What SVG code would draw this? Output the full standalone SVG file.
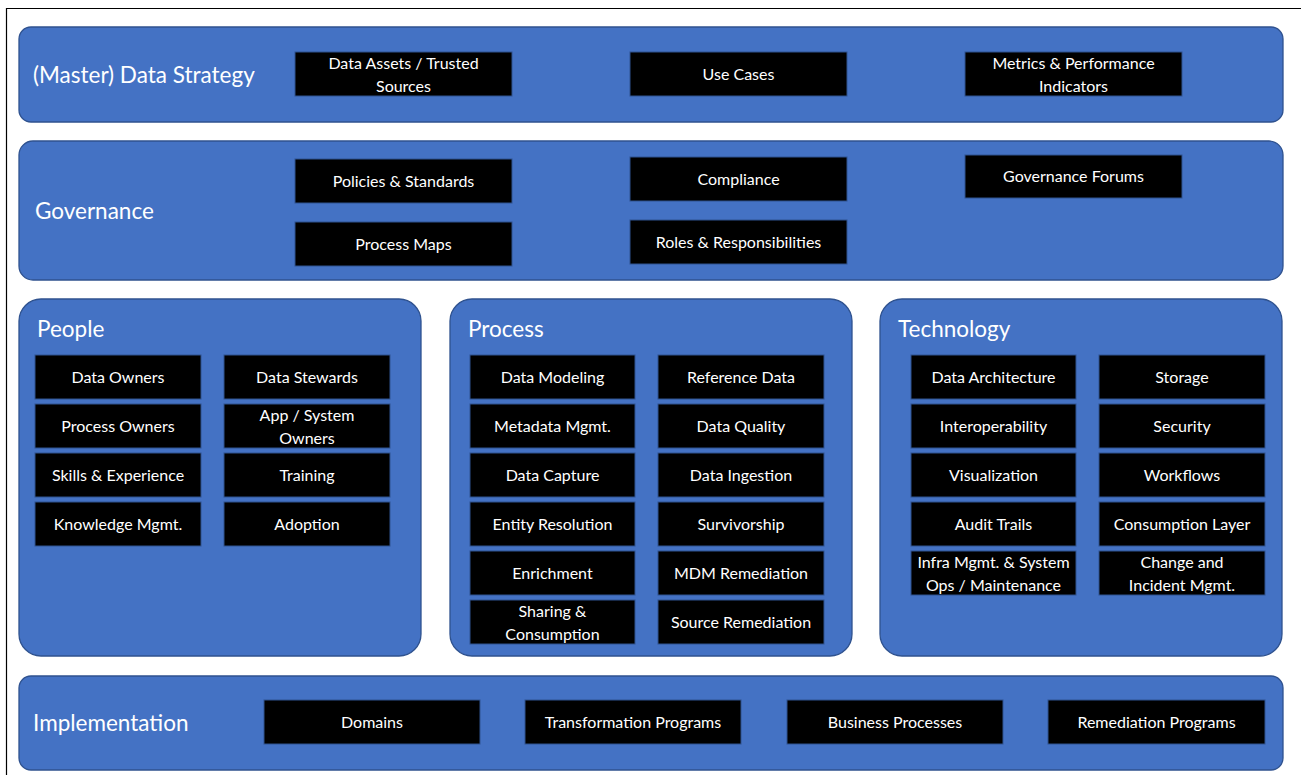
<svg xmlns="http://www.w3.org/2000/svg" width="1301" height="775" viewBox="0 0 1301 775">
<style>
.panel{fill:#4472C4;stroke:#2F528F;stroke-width:1.3}
.box{fill:#000;stroke:#2F528F;stroke-width:1}
.t{font-family:Lato,"Open Sans","Liberation Sans",sans-serif;font-size:16px;fill:#fff;text-anchor:middle}
.h{font-family:Lato,"Open Sans","Liberation Sans",sans-serif;font-size:22.5px;fill:#fff}
</style>
<rect width="1301" height="775" fill="#fff"/>
<path d="M6.5 775 V8.5 H1301" fill="none" stroke="#000" stroke-width="1.2"/>

<g id="strategy">
<rect class="panel" x="19" y="27" width="1264" height="95" rx="12"/>
<text class="h" x="33" y="83">(Master) Data Strategy</text>
</g>
<g id="n-data-assets"><rect class="box" x="295" y="52" width="217" height="44"/><text class="t" x="403.5" y="69">Data Assets / Trusted</text><text class="t" x="403.5" y="92">Sources</text></g>
<g id="n-use-cases"><rect class="box" x="630" y="52" width="217" height="44"/><text class="t" x="738.5" y="80">Use Cases</text></g>
<g id="n-metrics"><rect class="box" x="965" y="52" width="217" height="44"/><text class="t" x="1073.5" y="69">Metrics &amp; Performance</text><text class="t" x="1073.5" y="92">Indicators</text></g>

<g id="governance">
<rect class="panel" x="19" y="141" width="1264" height="139" rx="14"/>
<text class="h" x="35" y="219">Governance</text>
</g>
<g id="n-policies"><rect class="box" x="295" y="159" width="217" height="44"/><text class="t" x="403.5" y="187">Policies &amp; Standards</text></g>
<g id="n-process-maps"><rect class="box" x="295" y="222" width="217" height="44"/><text class="t" x="403.5" y="250">Process Maps</text></g>
<g id="n-compliance"><rect class="box" x="630" y="157" width="217" height="44"/><text class="t" x="738.5" y="185">Compliance</text></g>
<g id="n-roles"><rect class="box" x="630" y="220" width="217" height="44"/><text class="t" x="738.5" y="248">Roles &amp; Responsibilities</text></g>
<g id="n-forums"><rect class="box" x="965" y="155" width="217" height="43" /><text class="t" x="1073.5" y="182">Governance Forums</text></g>

<g id="people">
<rect class="panel" x="19" y="299" width="402" height="357" rx="22"/>
<text class="h" x="37" y="337">People</text>
</g>
<g id="n-data-owners"><rect class="box" x="35" y="355" width="166" height="44"/><text class="t" x="118" y="383">Data Owners</text></g>
<g id="n-data-stewards"><rect class="box" x="224" y="355" width="166" height="44"/><text class="t" x="307" y="383">Data Stewards</text></g>
<g id="n-process-owners"><rect class="box" x="35" y="404" width="166" height="44"/><text class="t" x="118" y="432">Process Owners</text></g>
<g id="n-app-owners"><rect class="box" x="224" y="404" width="166" height="44"/><text class="t" x="307" y="421">App / System</text><text class="t" x="307" y="444">Owners</text></g>
<g id="n-skills"><rect class="box" x="35" y="453" width="166" height="44"/><text class="t" x="118" y="481">Skills &amp; Experience</text></g>
<g id="n-training"><rect class="box" x="224" y="453" width="166" height="44"/><text class="t" x="307" y="481">Training</text></g>
<g id="n-knowledge"><rect class="box" x="35" y="502" width="166" height="44"/><text class="t" x="118" y="530">Knowledge Mgmt.</text></g>
<g id="n-adoption"><rect class="box" x="224" y="502" width="166" height="44"/><text class="t" x="307" y="530">Adoption</text></g>

<g id="process">
<rect class="panel" x="450" y="299" width="402" height="357" rx="22"/>
<text class="h" x="468" y="337">Process</text>
</g>
<g id="n-data-modeling"><rect class="box" x="470" y="355" width="165" height="44"/><text class="t" x="552.5" y="383">Data Modeling</text></g>
<g id="n-reference-data"><rect class="box" x="658" y="355" width="166" height="44"/><text class="t" x="741" y="383">Reference Data</text></g>
<g id="n-metadata"><rect class="box" x="470" y="404" width="165" height="44"/><text class="t" x="552.5" y="432">Metadata Mgmt.</text></g>
<g id="n-data-quality"><rect class="box" x="658" y="404" width="166" height="44"/><text class="t" x="741" y="432">Data Quality</text></g>
<g id="n-data-capture"><rect class="box" x="470" y="453" width="165" height="44"/><text class="t" x="552.5" y="481">Data Capture</text></g>
<g id="n-data-ingestion"><rect class="box" x="658" y="453" width="166" height="44"/><text class="t" x="741" y="481">Data Ingestion</text></g>
<g id="n-entity-resolution"><rect class="box" x="470" y="502" width="165" height="44"/><text class="t" x="552.5" y="530">Entity Resolution</text></g>
<g id="n-survivorship"><rect class="box" x="658" y="502" width="166" height="44"/><text class="t" x="741" y="530">Survivorship</text></g>
<g id="n-enrichment"><rect class="box" x="470" y="551" width="165" height="44"/><text class="t" x="552.5" y="579">Enrichment</text></g>
<g id="n-mdm-remediation"><rect class="box" x="658" y="551" width="166" height="44"/><text class="t" x="741" y="579">MDM Remediation</text></g>
<g id="n-sharing"><rect class="box" x="470" y="600" width="165" height="44"/><text class="t" x="552.5" y="617">Sharing &amp;</text><text class="t" x="552.5" y="640">Consumption</text></g>
<g id="n-source-remediation"><rect class="box" x="658" y="600" width="166" height="44"/><text class="t" x="741" y="628">Source Remediation</text></g>

<g id="technology">
<rect class="panel" x="880" y="299" width="402" height="357" rx="22"/>
<text class="h" x="898" y="337">Technology</text>
</g>
<g id="n-data-architecture"><rect class="box" x="911" y="355" width="165" height="44"/><text class="t" x="993.5" y="383">Data Architecture</text></g>
<g id="n-storage"><rect class="box" x="1099" y="355" width="166" height="44"/><text class="t" x="1182" y="383">Storage</text></g>
<g id="n-interoperability"><rect class="box" x="911" y="404" width="165" height="44"/><text class="t" x="993.5" y="432">Interoperability</text></g>
<g id="n-security"><rect class="box" x="1099" y="404" width="166" height="44"/><text class="t" x="1182" y="432">Security</text></g>
<g id="n-visualization"><rect class="box" x="911" y="453" width="165" height="44"/><text class="t" x="993.5" y="481">Visualization</text></g>
<g id="n-workflows"><rect class="box" x="1099" y="453" width="166" height="44"/><text class="t" x="1182" y="481">Workflows</text></g>
<g id="n-audit-trails"><rect class="box" x="911" y="502" width="165" height="44"/><text class="t" x="993.5" y="530">Audit Trails</text></g>
<g id="n-consumption-layer"><rect class="box" x="1099" y="502" width="166" height="44"/><text class="t" x="1182" y="530">Consumption Layer</text></g>
<g id="n-infra"><rect class="box" x="911" y="551" width="165" height="44"/><text class="t" x="993.5" y="568">Infra Mgmt. &amp; System</text><text class="t" x="993.5" y="591">Ops / Maintenance</text></g>
<g id="n-change"><rect class="box" x="1099" y="551" width="166" height="44"/><text class="t" x="1182" y="568">Change and</text><text class="t" x="1182" y="591">Incident Mgmt.</text></g>

<g id="implementation">
<rect class="panel" x="19" y="676" width="1264" height="94" rx="12"/>
<text class="h" x="33" y="731">Implementation</text>
</g>
<g id="n-domains"><rect class="box" x="264" y="700" width="216" height="44"/><text class="t" x="372" y="728">Domains</text></g>
<g id="n-transformation"><rect class="box" x="525" y="700" width="216" height="44"/><text class="t" x="633" y="728">Transformation Programs</text></g>
<g id="n-business"><rect class="box" x="787" y="700" width="216" height="44"/><text class="t" x="895" y="728">Business Processes</text></g>
<g id="n-remediation"><rect class="box" x="1048" y="700" width="217" height="44"/><text class="t" x="1156.5" y="728">Remediation Programs</text></g>

<g id="connectors"></g>
</svg>
